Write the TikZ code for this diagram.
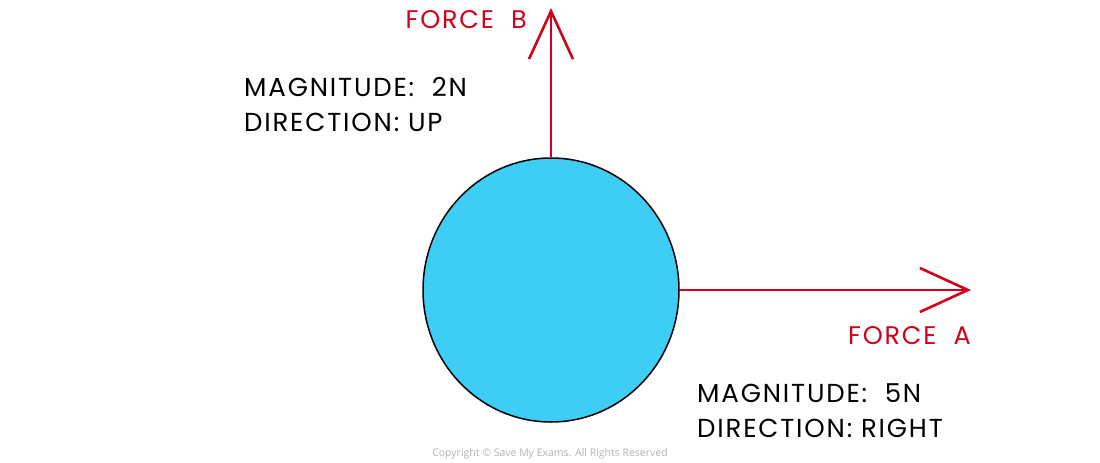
\documentclass[tikz,border=0pt]{standalone}
\usepackage{fontspec}
\setmainfont{Poppins}[LetterSpace=7]
\newfontfamily\copyfont{Open Sans}
\usetikzlibrary{shapes.geometric,arrows.meta}

\definecolor{ballblue}{RGB}{61,205,245}
\definecolor{forcered}{RGB}{208,2,27}

\begin{document}
\begin{tikzpicture}[
  x=1pt, y=-1pt,
  ball/.style={ellipse, draw=black, line width=1.5pt, fill=ballblue,
    minimum width=256pt, minimum height=264pt, inner sep=0pt},
  force/.style={draw=forcered, line width=2.6pt,
    -{Straight Barb[length=48pt,width=44pt,line width=2.6pt]}},
  forcelabel/.style={text=forcered, font=\fontsize{25.5}{30}\selectfont, inner sep=0pt},
  info/.style={align=left, font=\fontsize{26}{35}\selectfont, inner sep=0pt, anchor=west},
  every node/.style={align=center}]

\useasboundingbox (0,0) rectangle (1100,463);

% The ball and the two forces on it
\node[ball] (ball) at (551,290) {};
\coordinate (tipB) at (551,8);
\coordinate (tipA) at (971,290);

\draw [force] (ball.north) -- (tipB);
\draw [force] (ball.east) -- (tipA);

% Labels
\node[forcelabel, anchor=east] (labelB) at (527,20) {FORCE\ \ B};
\node[forcelabel, anchor=east] (labelA) at (971,336) {FORCE\ \ A};
\node[info] (infoB) at (244,105) {MAGNITUDE:\ \ 2N\\DIRECTION:\ UP};
\node[info] (infoA) at (697,411) {MAGNITUDE:\ \ 5N\\DIRECTION:\ RIGHT};

\node[text=black!30, font=\copyfont\fontsize{10.5}{12}\selectfont] (copy) at (550,454)
  {Copyright \textcopyright{} Save My Exams. All Rights Reserved};

\end{tikzpicture}
\end{document}
